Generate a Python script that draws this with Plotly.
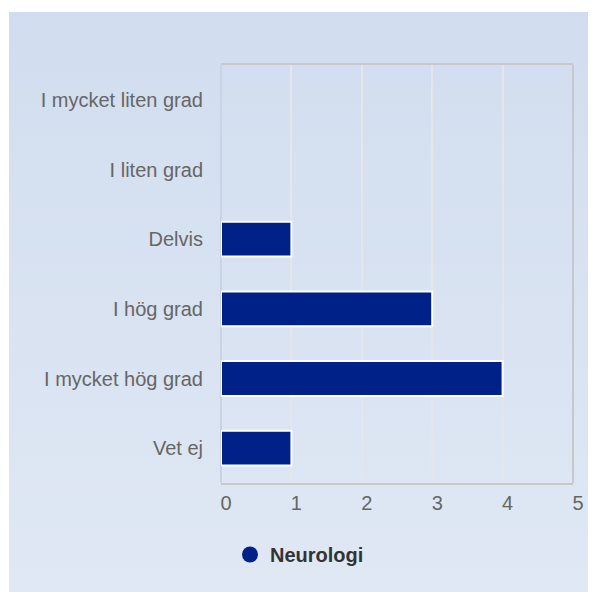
import base64

import plotly.graph_objects as go

categories = ["I mycket liten grad", "I liten grad", "Delvis", "I hög grad", "I mycket hög grad", "Vet ej"]
values = [0, 0, 1, 3, 4, 1]
series_name = "Neurologi"
x_ticks = [0, 1, 2, 3, 4, 5]

BAR_COLOR = "#002288"
FONT = "Liberation Sans, Arial, sans-serif"

# soft vertical gradient for the chart background
svg = (
    '<svg xmlns="http://www.w3.org/2000/svg" width="10" height="100" viewBox="0 0 10 100" '
    'preserveAspectRatio="none">'
    '<defs><linearGradient id="g" x1="0" y1="0" x2="0" y2="1">'
    '<stop offset="0" stop-color="#d1ddef"/><stop offset="1" stop-color="#e0e8f4"/>'
    '</linearGradient></defs><rect width="10" height="100" fill="url(#g)"/></svg>'
)
bg_src = "data:image/svg+xml;base64," + base64.b64encode(svg.encode()).decode()

fig = go.Figure()
fig.add_trace(
    go.Bar(
        x=values,
        y=categories,
        orientation="h",
        # no white outline on the empty (zero) bars
        marker=dict(
            color=BAR_COLOR,
            line=dict(color="white", width=[2 if v else 0 for v in values]),
        ),
        showlegend=False,
        hoverinfo="x+y",
    )
)
# legend entry drawn as a circle
fig.add_trace(
    go.Scatter(
        x=[None],
        y=[None],
        mode="markers",
        name=series_name,
        marker=dict(color=BAR_COLOR, size=22, symbol="circle"),
    )
)

# the page body adds an 8px offset, so figure coords = page coords - 8
# plot area in page: x 221..573, y 65..483
FIG_W, FIG_H = 588, 584
L, T = 213, 57
R = FIG_W - (573 - 8)
B = FIG_H - (483 - 8)
W, H = FIG_W - L - R, FIG_H - T - B
PLOT_BOTTOM = FIG_H - B

fig.update_layout(
    width=FIG_W,
    height=FIG_H,
    margin=dict(l=L, r=R, t=T, b=B, pad=0),
    paper_bgcolor="white",
    plot_bgcolor="rgba(0,0,0,0)",
    font=dict(family=FONT, size=20, color="#666666"),
    bargap=0.5,
    showlegend=True,
    legend=dict(
        orientation="h",
        x=(222 - L) / W,
        y=(PLOT_BOTTOM - 527) / H,
        xanchor="left",
        yanchor="top",
        font=dict(family=FONT, size=20, color="#333333", weight="bold"),
        bgcolor="rgba(0,0,0,0)",
        itemsizing="trace",
    ),
    images=[
        dict(
            source=bg_src,
            xref="paper",
            yref="paper",
            x=(1 - L) / W,
            y=(PLOT_BOTTOM - 4) / H,
            sizex=(640 - 1) / W,
            sizey=(600 - 4) / H,
            xanchor="left",
            yanchor="top",
            sizing="stretch",
            layer="below",
        )
    ],
)

fig.update_xaxes(
    range=[0, 5],
    tickvals=x_ticks,
    showgrid=True,
    gridcolor="#e4e6ea",
    gridwidth=2,
    zeroline=True,
    zerolinecolor="#c9d3e6",
    zerolinewidth=2,
    showline=True,
    linecolor="#c8c8c8",
    linewidth=2,
    mirror=True,
    ticks="outside",
    ticklen=1,
    tickcolor="rgba(0,0,0,0)",
    ticklabelshift=5,
    tickfont=dict(size=20, color="#666666"),
    fixedrange=True,
)
fig.update_yaxes(
    categoryorder="array",
    categoryarray=categories,
    autorange="reversed",
    showgrid=False,
    zeroline=False,
    showline=False,
    ticks="outside",
    ticklen=13,
    tickcolor="rgba(0,0,0,0)",
    tickfont=dict(size=20, color="#666666"),
    fixedrange=True,
)
# right border of the plot frame
fig.add_shape(
    type="line", xref="paper", yref="paper", x0=1, x1=1, y0=0, y1=1,
    line=dict(color="#c8c8c8", width=2),
)

fig.write_html("out.html")
